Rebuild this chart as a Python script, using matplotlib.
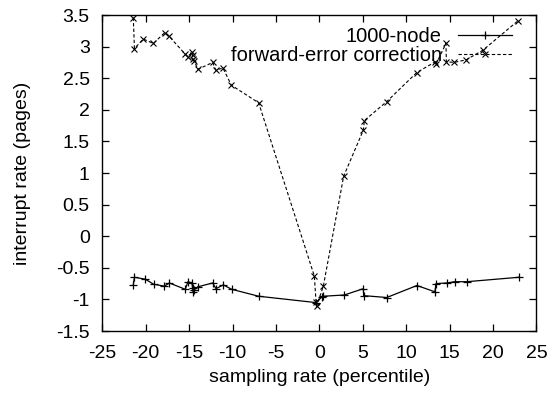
import matplotlib.pyplot as plt

plt.rcParams['font.family'] = ['Liberation Sans', 'DejaVu Sans']

# 1000-node (solid, "+")
node_x = [-21.43, -21.3, -20.05, -19.09, -17.86, -17.28, -15.44, -15.14, -14.68, -14.6, -14.52,
          -14.44, -13.98, -12.29, -11.91, -11.06, -10.1, -6.99, -0.4, 0.3, 0.46, 2.88, 5.07,
          5.1, 7.76, 11.24, 13.31, 13.43, 14.66, 15.58, 16.97, 22.96]
node_y = [-0.77, -0.65, -0.68, -0.76, -0.79, -0.74, -0.84, -0.72, -0.74, -0.82, -0.89,
          -0.85, -0.80, -0.74, -0.83, -0.77, -0.84, -0.95, -1.05, -0.96, -0.95, -0.93, -0.83,
          -0.94, -0.97, -0.78, -0.88, -0.75, -0.74, -0.72, -0.72, -0.65]

# forward-error correction (dashed, "x")
fec_x = [-21.43, -21.3, -20.28, -19.12, -17.82, -17.36, -15.44, -15.17, -14.67, -14.6, -14.52,
         -14.44, -13.98, -12.29, -11.95, -11.1, -10.14, -6.99, -0.58, -0.38, -0.31, 0.46, 2.8,
         5.07, 5.18, 7.76, 11.22, 13.36, 13.43, 14.58, 14.63, 15.51, 16.89, 18.81, 22.89]
fec_y = [3.46, 2.97, 3.12, 3.05, 3.22, 3.17, 2.88, 2.84, 2.91, 2.86, 2.80,
         2.78, 2.64, 2.75, 2.63, 2.66, 2.39, 2.11, -0.63, -1.04, -1.10, -0.79, 0.95,
         1.68, 1.83, 2.13, 2.59, 2.76, 2.72, 3.05, 2.76, 2.75, 2.79, 2.94, 3.41]

xticks = list(range(-25, 26, 5))
yticks = [-1.5, -1, -0.5, 0, 0.5, 1, 1.5, 2, 2.5, 3, 3.5]

fig = plt.figure(figsize=(5.53, 3.95), dpi=100)
ax = fig.add_axes([0.185, 0.162, 0.785, 0.8])

ax.plot(node_x, node_y, color='black', linewidth=0.9, marker='+', markersize=6,
        markeredgewidth=0.9, label='1000-node')
ax.plot(fec_x, fec_y, color='black', linewidth=0.8, linestyle=(0, (3, 2)), marker='x',
        markersize=4.5, markeredgewidth=0.8, label='forward-error correction')

ax.set_xlim(-25, 25)
ax.set_ylim(-1.5, 3.5)
ax.set_xticks(xticks)
ax.set_xticklabels([str(t) for t in xticks])
ax.set_yticks(yticks)
ax.set_yticklabels([f'{t:g}' for t in yticks])
ax.tick_params(direction='in', top=True, right=True, length=5, width=0.9, labelsize=14)
ax.tick_params(axis='x', pad=10)
ax.tick_params(axis='y', pad=9)
for s in ax.spines.values():
    s.set_linewidth(1.0)

ax.set_xlabel('sampling rate (percentile)', fontsize=14, labelpad=5)
ax.set_ylabel('interrupt rate (pages)', fontsize=14, labelpad=18)

ax.legend(loc='upper right', bbox_to_anchor=(0.968, 0.995), frameon=False, markerfirst=False,
          fontsize=14.5, handlelength=2.7, numpoints=1, borderpad=0, labelspacing=0.0,
          handletextpad=0.8)

fig.savefig('out.png', dpi=100)
